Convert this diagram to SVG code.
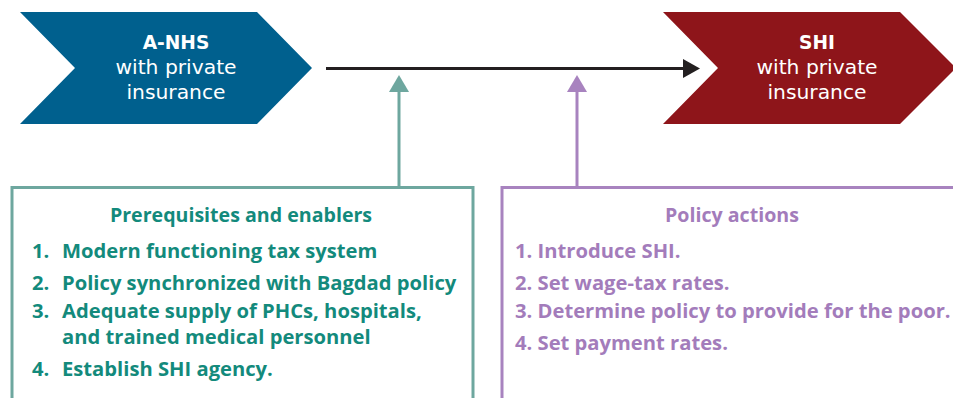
<svg xmlns="http://www.w3.org/2000/svg" width="953" height="398" viewBox="0 0 953 398">
<style>
  text { font-family: "Open Sans", "Noto Sans", "DejaVu Sans", sans-serif; }
  .chev-t { fill: #ffffff; font-family: "DejaVu Sans", "Open Sans", sans-serif; font-size: 20.3px; text-anchor: middle; }
  .b { font-weight: bold; font-size: 18.6px; }
  .teal { fill: #138a7c; font-weight: bold; font-size: 20.2px; }
  .purp { fill: #a37cbb; font-weight: bold; font-size: 20.2px; }
  .title { text-anchor: middle; font-size: 19.6px; }
</style>
<rect width="953" height="398" fill="#ffffff"/>

<g id="node-anhs">
  <polygon points="20,12 257,12 312,68 257,124 20,124 75,68" fill="#00608e"/>
  <text class="chev-t b" x="176" y="49">A-NHS</text>
  <text class="chev-t" x="176" y="74">with private</text>
  <text class="chev-t" x="176" y="99">insurance</text>
</g>

<g id="node-shi">
  <polygon points="663,12 900,12 956,68 900,124 663,124 718,68" fill="#8e151a"/>
  <text class="chev-t b" x="817" y="49">SHI</text>
  <text class="chev-t" x="817" y="74">with private</text>
  <text class="chev-t" x="817" y="99">insurance</text>
</g>

<g id="node-prereq">
  <rect x="12" y="187.5" width="461" height="230" fill="none" stroke="#6ea79f" stroke-width="3"/>
  <text class="teal title" x="241" y="222">Prerequisites and enablers</text>
  <text class="teal" x="32" y="258">1.</text><text class="teal" x="62" y="258">Modern functioning tax system</text>
  <text class="teal" x="32" y="290">2.</text><text class="teal" x="62" y="290">Policy synchronized with Bagdad policy</text>
  <text class="teal" x="32" y="318">3.</text><text class="teal" x="62" y="318">Adequate supply of PHCs, hospitals,</text>
  <text class="teal" x="62" y="344">and trained medical personnel</text>
  <text class="teal" x="32" y="376">4.</text><text class="teal" x="62" y="376">Establish SHI agency.</text>
</g>

<g id="node-policy">
  <rect x="502" y="187.5" width="470" height="230" fill="none" stroke="#a883bf" stroke-width="3"/>
  <text class="purp title" x="732" y="222">Policy actions</text>
  <text class="purp" x="515" y="258">1. Introduce SHI.</text>
  <text class="purp" x="515" y="290">2. Set wage-tax rates.</text>
  <text class="purp" x="515" y="318">3. Determine policy to provide for the poor.</text>
  <text class="purp" x="515" y="350">4. Set payment rates.</text>
</g>

<g id="connectors">
  <line x1="326" y1="68.5" x2="684" y2="68.5" stroke="#231f20" stroke-width="3"/>
  <polygon points="683,59 700,68.5 683,78" fill="#231f20"/>
  <line x1="399" y1="187" x2="399" y2="90" stroke="#6ea79f" stroke-width="3"/>
  <polygon points="389,92 399,75 409,92" fill="#6ea79f"/>
  <line x1="577" y1="187" x2="577" y2="90" stroke="#a883bf" stroke-width="3"/>
  <polygon points="567,92 577,75 587,92" fill="#a883bf"/>
</g>
</svg>
